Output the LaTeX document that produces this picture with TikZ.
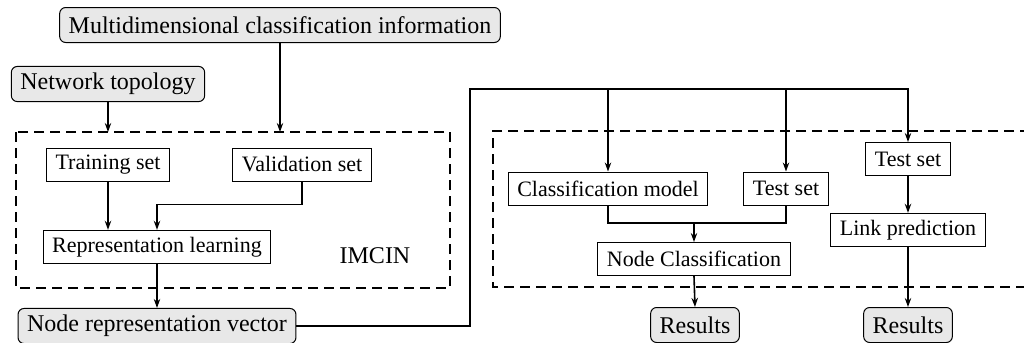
\documentclass[tikz,border=0pt]{standalone}
\usepackage{fontspec}
\setmainfont{Liberation Serif}
\usetikzlibrary{arrows.meta}
\begin{document}
\begin{tikzpicture}[x=0.5pt,y=-0.5pt,
    box/.style={draw,line width=0.5pt,inner xsep=4.5pt,minimum height=16.5pt,font=\fontsize{11}{13}\selectfont},
    gbox/.style={box,fill=gray!18,rounded corners=3pt,minimum height=17.5pt,font=\fontsize{12}{14}\selectfont},
    frame/.style={line width=1.4pt,dash pattern=on 5pt off 3pt},
    arr/.style={-{Stealth[length=4.5pt,width=3.2pt]},line width=0.8pt},
    wire/.style={line width=0.8pt}]
  \useasboundingbox (0,0) rectangle (1024,343);
  % inputs and left block
  \node[gbox] (mci) at (280,25) {Multidimensional classification information};
  \node[gbox] (nt) at (108,84) {Network topology};
  \node[box] (train) at (108,164.5) {Training set};
  \node[box] (val) at (302,164.5) {Validation set};
  \node[box] (rl) at (157,247) {Representation learning};
  \node[font=\fontsize{12}{14}\selectfont] (imcin) at (375,256) {IMCIN};
  \node[gbox] (nrv) at (157,326) {Node representation vector};
  \draw[frame] (16,132) rectangle (450,288);
  \coordinate (ltop) at (0,132);
  % right block
  \node[box] (cm) at (608,188.5) {Classification model};
  \node[box] (ts1) at (786,188.5) {Test set};
  \node[box] (ts2) at (908,159) {Test set};
  \node[box] (lp) at (908,230) {Link prediction};
  \node[box] (nc) at (694,259) {Node Classification};
  \node[gbox] (res1) at (695,325) {Results};
  \node[gbox] (res2) at (908,325) {Results};
  \draw[frame] (1030,131) -- (493,131) -- (493,287) -- (1030,287);
  \coordinate (bus) at (470,89);
  \coordinate (merge) at (694,223);
  % connectors
  \draw[arr] (nt.south) -- (nt.south |- ltop);
  \draw[arr] (mci.south) -- (mci.south |- ltop);
  \draw[arr] (train.south) -- (train.south |- rl.north);
  \draw[arr] (val.south) -- ++(0,23) -| (rl.north);
  \draw[arr] (rl.south) -- (nrv.north);
  \draw[arr] (nrv.east) -| (bus) -| (ts2.north);
  \draw[arr] (cm.north |- bus) -- (cm.north);
  \draw[arr] (ts1.north |- bus) -- (ts1.north);
  \draw[wire] (cm.south) |- (merge) -| (ts1.south);
  \draw[arr] (merge) -- (nc.north);
  \draw[arr] (nc.south) -- (res1.north);
  \draw[arr] (ts2.south) -- (lp.north);
  \draw[arr] (lp.south) -- (res2.north);
\end{tikzpicture}
\end{document}
